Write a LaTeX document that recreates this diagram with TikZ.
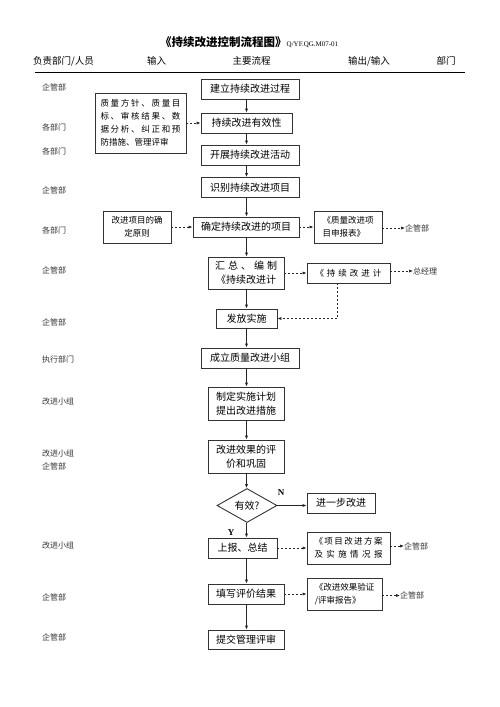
\documentclass[tikz,border=0pt]{standalone}
\usepackage{fontspec}
\setmainfont{Noto Sans CJK SC}
\newfontfamily\latinserif{Liberation Serif}
\usetikzlibrary{calc,shapes.geometric,arrows.meta}

\begin{document}
\begin{tikzpicture}[x=1pt,y=-1pt]
        \tikzstyle{every node}=[inner sep=0pt]
        \tikzstyle{proc}=[draw=black!80,line width=0.9pt,minimum height=20pt,align=center,font=\fontsize{10}{14}\selectfont]
        \tikzstyle{doc}=[draw=black!80,line width=0.9pt,minimum height=32pt,font=\fontsize{8.5}{13}\selectfont]
        \tikzstyle{dept}=[anchor=west,text=black!80,align=left,font=\fontsize{8}{13}\selectfont]
        \tikzstyle{head}=[font=\fontsize{9.5}{12}\selectfont]
        \tikzstyle{arr}=[-{Latex[length=4pt,width=3.2pt]},line width=0.7pt,black!85]
        \tikzstyle{darr}=[arr,dash pattern=on 2pt off 2pt]
        \useasboundingbox (0,0) rectangle (500,707);
        % title and header
        \node[anchor=west] (title) at (160,42) {{\fontsize{11.5}{14}\selectfont\bfseries 《持续改进控制流程图》}{\latinserif\fontsize{7}{9}\selectfont Q/YF.QG.M07-01}};
        \node[head,anchor=west] (h1) at (33,61) {负责部门/人员};
        \node[head] (h2) at (156.5,61) {输入};
        \node[head] (h3) at (251.5,61) {主要流程};
        \node[head] (h4) at (369,61) {输出/输入};
        \node[head] (h5) at (446,61) {部门};
        \draw[line width=1pt] (35,72) -- (465,72);
        % departments
        \node[dept] (l1) at (42,87) {企管部};
        \node[dept] (l2) at (42,127) {各部门};
        \node[dept] (l3) at (42,151) {各部门};
        \node[dept] (l4) at (42,190) {企管部};
        \node[dept] (l5) at (42,230) {各部门};
        \node[dept] (l6) at (42,270) {企管部};
        \node[dept] (l7) at (42,322) {企管部};
        \node[dept] (l8) at (42,359) {执行部门};
        \node[dept] (l9) at (42,401) {改进小组};
        \node[dept] (l10) at (42,459.5) {改进小组\\企管部};
        \node[dept] (l11) at (42,545) {改进小组};
        \node[dept] (l12) at (42,597) {企管部};
        \node[dept] (l13) at (42,637) {企管部};
        % main flow
        \coordinate (axis) at (246.5,0);
        \node[proc,minimum width=98pt] (b1) at (250,89) {建立持续改进过程};
        \node[proc,minimum width=91pt] (b2) at (246.5,123) {持续改进有效性};
        \node[proc,minimum width=98pt] (b3) at (250,155) {开展持续改进活动};
        \node[proc,minimum width=98pt] (b4) at (250,187.5) {识别持续改进项目};
        \node[proc,minimum width=106pt] (b5) at (246,227) {确定持续改进的项目};
        \node[proc,minimum width=76pt,minimum height=32pt] (b6) at (246,273) {\makebox[62pt][s]{汇 总 、 编 制}\\《持续改进计};
        \node[proc,minimum width=61pt,minimum height=19pt] (b7) at (246.5,318.5) {发放实施};
        \node[proc,minimum width=98pt] (b8) at (250,358) {成立质量改进小组};
        \node[proc,minimum width=76pt,minimum height=33pt] (b9) at (246,403.5) {制定实施计划\\提出改进措施};
        \node[proc,minimum width=76pt,minimum height=33pt] (b10) at (246,456.5) {改进效果的评\\价和巩固};
        \node[draw=black!80,line width=0.9pt,diamond,minimum width=60pt,minimum height=25pt,font=\fontsize{10}{12}\selectfont] (d1) at (247,505.5) {有效?};
        \node[proc,minimum width=69pt] (b11) at (242.5,548) {上报、总结};
        \node[proc,minimum width=76pt] (b12) at (246,594) {填写评价结果};
        \node[proc,minimum width=76pt,minimum height=19pt] (b13) at (246,639.5) {提交管理评审};
        \node[proc,minimum width=68pt] (b14) at (341,503) {进一步改进};
        \node[font=\latinserif\bfseries\fontsize{9}{10}\selectfont] (n) at (281,493) {N};
        \node[font=\latinserif\bfseries\fontsize{9}{10}\selectfont] (y) at (231,533) {Y};
        % inputs
        \node[doc,minimum width=91pt,minimum height=60pt,align=left] (i1) at (140.5,123) {\makebox[80pt][s]{质 量 方 针 、 质 量 目}\\\makebox[80pt][s]{标 、 审 核 结 果 、 数}\\\makebox[80pt][s]{据 分 析 、 纠 正 和 预}\\防措施、管理评审};
        \node[doc,minimum width=68pt,align=center] (i2) at (137,227) {改进项目的确\\定原则};
        % outputs
        \node[doc,minimum width=68pt,align=left] (o1) at (348,227) {《质量改进项\\目申报表》};
        \node[doc,minimum width=83pt,minimum height=20pt] (o2) at (348.5,273) {\makebox[66pt][s]{《 持 续 改 进 计}};
        \node[doc,minimum width=83pt,align=center] (o3) at (348.5,548) {\makebox[68pt][s]{《 项 目 改 进 方 案}\\\makebox[68pt][s]{及 实 施 情 况 报}};
        \node[doc,minimum width=75pt,align=left] (o4) at (344.5,594) {《改进效果验证\\/评审报告》};
        \node[dept] (r1) at (405,228) {企管部};
        \node[dept] (r2) at (413,271) {总经理};
        \node[dept] (r3) at (404,546) {企管部};
        \node[dept] (r4) at (400,595.5) {企管部};
        % connectors
        \draw[arr] (b1.south -| axis) -- (b2.north -| axis);
        \draw[arr] (b2.south -| axis) -- (b3.north -| axis);
        \draw[arr] (b3.south -| axis) -- (b4.north -| axis);
        \draw[arr] (b4.south -| axis) -- (b5.north -| axis);
        \draw[arr] (b5.south -| axis) -- (b6.north -| axis);
        \draw[arr] (b6.south -| axis) -- (b7.north -| axis);
        \draw[arr] (b7.south -| axis) -- (b8.north -| axis);
        \draw[arr] (b8.south -| axis) -- (b9.north -| axis);
        \draw[arr] (b9.south -| axis) -- (b10.north -| axis);
        \draw[arr] (b10.south -| axis) -- (d1.north -| axis);
        \draw[arr] (d1.south -| axis) -- (b11.north -| axis);
        \draw[arr] (b11.south -| axis) -- (b12.north -| axis);
        \draw[arr] (b12.south -| axis) -- (b13.north -| axis);
        \draw[arr] (d1.east) -- (b14.west |- d1.east);
        \draw[darr] (i1.east |- b2) -- (b2.west);
        \draw[darr] (i2.east) -- (b5.west);
        \draw[darr] (b5.east) -- (o1.west);
        \draw[darr] (o1.east |- r1) -- (r1.west);
        \draw[darr] (b6.east |- o2) -- (o2.west);
        \draw[darr] (o2.east |- r2) -- (r2.west);
        \draw[darr] ($(o2.south)+(-11,0)$) |- (b7.east);
        \draw[darr] (b11.east) -- (o3.west |- b11);
        \draw[darr] (o3.east |- r3) -- (r3.west);
        \draw[darr] (b12.east) -- (o4.west |- b12);
        \draw[darr] (o4.east |- r4) -- (r4.west);
    \end{tikzpicture}
\end{document}
